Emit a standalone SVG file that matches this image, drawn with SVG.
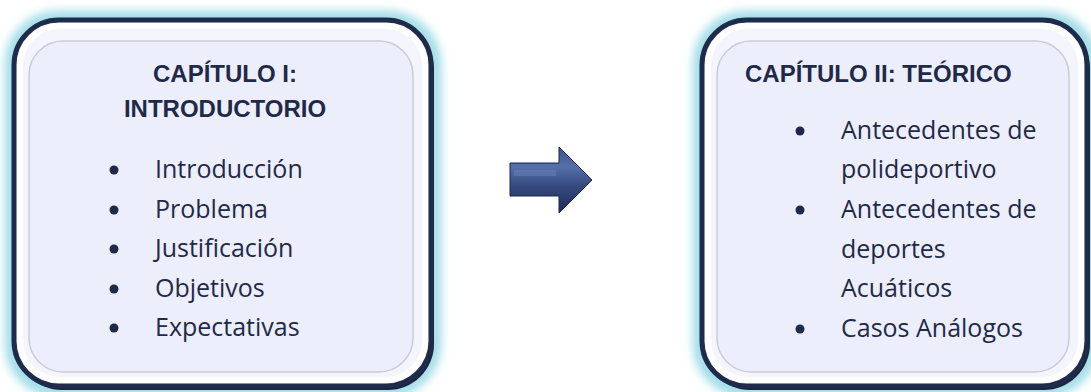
<svg xmlns="http://www.w3.org/2000/svg" width="1091" height="392" viewBox="0 0 1091 392">
<style>
.title{font-family:"Liberation Sans",Arial,sans-serif;font-weight:bold;font-size:24px;fill:#1f2a48}
.item{font-family:"Open Sans","Noto Sans",sans-serif;font-size:25px;fill:#1f2a48}
.bul{fill:#1f2a48}
.glow{fill:none;stroke:#9fdce6;stroke-width:14;filter:url(#blur)}
.shadow{fill:#1c2540}
.outer{fill:#f4f5fc;stroke:#1f2b4a;stroke-width:5}
.band{fill:none;stroke:#ffffff;stroke-width:6;opacity:0.9}
.inner{fill:#eceefb;stroke:#c9cbd9;stroke-width:1.5}
</style>
<defs>
<filter id="blur" x="-10%" y="-10%" width="120%" height="120%"><feGaussianBlur stdDeviation="5"/></filter>
<linearGradient id="arrowG" x1="0" y1="0" x2="0" y2="1">
<stop offset="0" stop-color="#3b5289"/>
<stop offset="0.3" stop-color="#5670ab"/>
<stop offset="0.6" stop-color="#34497d"/>
<stop offset="1" stop-color="#1f2d57"/>
</linearGradient>
</defs>
<g id="node-cap1">
<rect class="glow" x="12" y="18" width="422" height="372" rx="46"/>
<rect class="shadow" x="16" y="23" width="418" height="367" rx="46"/>
<rect class="outer" x="14" y="20" width="417" height="366" rx="45"/>
<rect class="band" x="20" y="26" width="405" height="354" rx="40"/>
<rect class="inner" x="29" y="41" width="384" height="331" rx="34"/>
<text class="title" x="225" y="82" text-anchor="middle">CAPÍTULO I:</text>
<text class="title" x="225" y="117" text-anchor="middle">INTRODUCTORIO</text>
<circle class="bul" cx="114" cy="170" r="4.5"/>
<circle class="bul" cx="114" cy="210" r="4.5"/>
<circle class="bul" cx="114" cy="249" r="4.5"/>
<circle class="bul" cx="114" cy="289" r="4.5"/>
<circle class="bul" cx="114" cy="328" r="4.5"/>
<text class="item" x="155" y="178">Introducción</text>
<text class="item" x="155" y="218">Problema</text>
<text class="item" x="155" y="257">Justificación</text>
<text class="item" x="155" y="297">Objetivos</text>
<text class="item" x="155" y="336">Expectativas</text>
</g>
<g id="node-cap2">
<rect class="glow" x="700" y="18" width="391" height="372" rx="46"/>
<rect class="shadow" x="704" y="23" width="386" height="367" rx="46"/>
<rect class="outer" x="702" y="20" width="385" height="366" rx="45"/>
<rect class="band" x="708" y="26" width="373" height="354" rx="40"/>
<rect class="inner" x="717" y="41" width="352" height="331" rx="34"/>
<text class="title" x="745" y="82">CAPÍTULO II: TEÓRICO</text>
<circle class="bul" cx="800" cy="131" r="4.5"/>
<circle class="bul" cx="800" cy="210" r="4.5"/>
<circle class="bul" cx="800" cy="329" r="4.5"/>
<text class="item" x="841" y="139">Antecedentes de</text>
<text class="item" x="841" y="178">polideportivo</text>
<text class="item" x="841" y="218">Antecedentes de</text>
<text class="item" x="841" y="258">deportes</text>
<text class="item" x="841" y="297">Acuáticos</text>
<text class="item" x="841" y="337">Casos Análogos</text>
</g>
<g id="connectors">
<path d="M510,163 L559,163 L559,147 L592,180 L559,213 L559,196 L510,196 Z" fill="url(#arrowG)" stroke="#1b2850" stroke-width="1"/>
<path d="M514,170 L556,170 L556,176 L514,176 Z" fill="#6a82bb" opacity="0.5"/>
</g>
</svg>
